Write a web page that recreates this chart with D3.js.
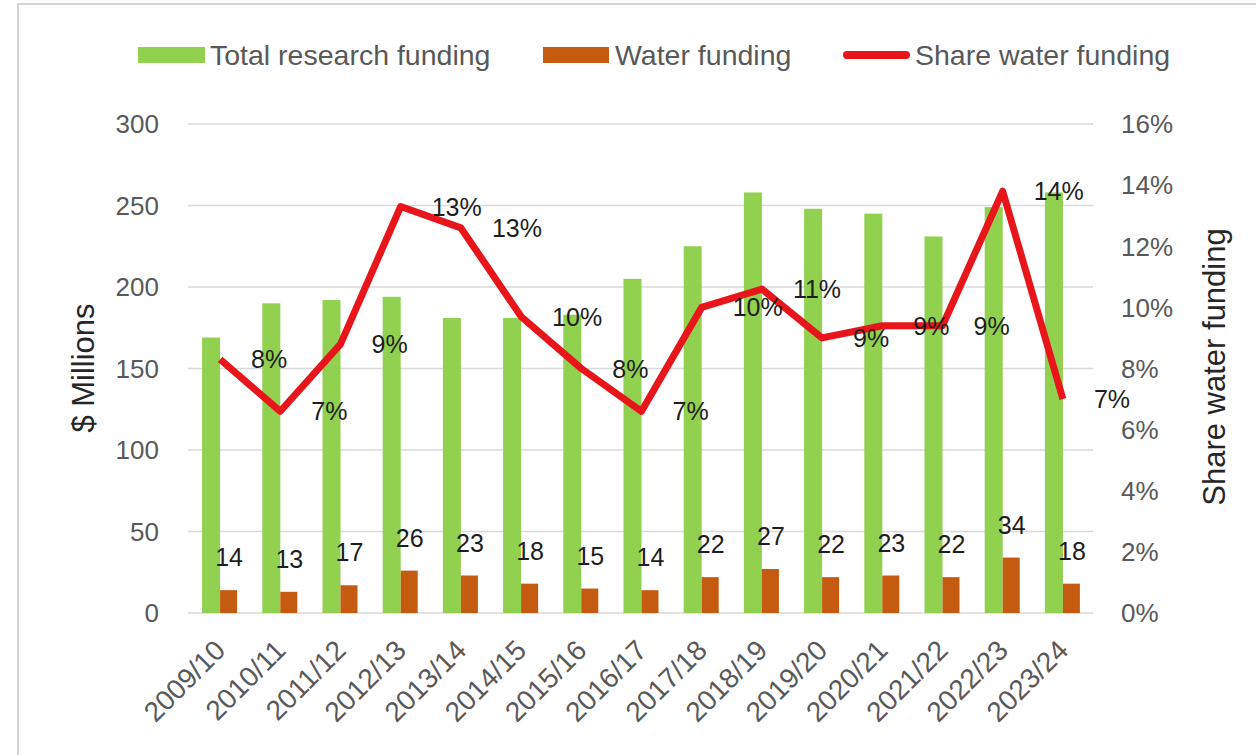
<!DOCTYPE html>
<html>
<head>
<meta charset="utf-8">
<script src="https://cdn.jsdelivr.net/npm/d3@7"></script>
<style>
  html, body { margin: 0; padding: 0; background: #fff; }
  svg { display: block; }
</style>
</head>
<body>
<script>
// chart data
const years = ["2009/10", "2010/11", "2011/12", "2012/13", "2013/14", "2014/15", "2015/16", "2016/17",
  "2017/18", "2018/19", "2019/20", "2020/21", "2021/22", "2022/23", "2023/24"];
const totalFunding = [169, 190, 192, 194, 181, 181, 183, 205, 225, 258, 248, 245, 231, 249, 258];
const waterFunding = [14, 13, 17, 26, 23, 18, 15, 14, 22, 27, 22, 23, 22, 34, 18];
const waterShare = [8.3, 6.6, 8.8, 13.3, 12.6, 9.7, 8.0, 6.6, 10.0, 10.6, 9.0, 9.4, 9.4, 13.8, 7.0];
const leftTicks = [0, 50, 100, 150, 200, 250, 300];
const rightTicks = [0, 2, 4, 6, 8, 10, 12, 14, 16];
const legendItems = ["Total research funding", "Water funding", "Share water funding"];

const width = 1256;
const height = 755;
const green = "#92d050";
const orange = "#c55a11";
const red = "#e8161b";
const font = "'Liberation Sans', Arial, sans-serif";

const svg = d3.create("svg")
  .attr("width", width)
  .attr("height", height)
  .attr("font-family", font);

// frame of the chart area
svg.append("path")
  .attr("d", "M18,755V4H1256")
  .attr("fill", "none")
  .attr("stroke", "#d4d4d4")
  .attr("stroke-width", 2);

const x = d3.scaleBand().domain(years).range([190, 1093]);
const y = d3.scaleLinear().domain([0, 300]).range([613, 124]);
const y2 = d3.scaleLinear().domain([0, 16]).range([613, 124]);
const barW = 18;
const cx = d => x(d) + x.bandwidth() / 2;

// gridlines
svg.append("g")
  .selectAll("line")
  .data(leftTicks)
  .join("line")
  .attr("x1", 188).attr("x2", 1093)
  .attr("y1", d => y(d)).attr("y2", d => y(d))
  .attr("stroke", "#d9d9d9")
  .attr("stroke-width", 1.5);

// left axis labels
svg.append("g")
  .attr("font-size", 26)
  .attr("fill", "#595959")
  .attr("text-anchor", "end")
  .selectAll("text")
  .data(leftTicks)
  .join("text")
  .attr("x", 159)
  .attr("y", d => y(d))
  .attr("dy", "0.36em")
  .text(d => d);

// right axis labels
svg.append("g")
  .attr("font-size", 26)
  .attr("fill", "#595959")
  .selectAll("text")
  .data(rightTicks)
  .join("text")
  .attr("x", 1121)
  .attr("y", d => y2(d))
  .attr("dy", "0.36em")
  .text(d => d + "%");

// axis titles
svg.append("text")
  .attr("transform", "translate(94,368) rotate(-90)")
  .attr("text-anchor", "middle")
  .attr("font-size", 31)
  .attr("fill", "#262626")
  .text("$ Millions");

svg.append("text")
  .attr("transform", "translate(1225,367) rotate(-90)")
  .attr("text-anchor", "middle")
  .attr("font-size", 31)
  .attr("fill", "#262626")
  .text("Share water funding");

// x labels, rotated
svg.append("g")
  .attr("font-size", 28)
  .attr("fill", "#595959")
  .attr("text-anchor", "end")
  .selectAll("text")
  .data(years)
  .join("text")
  .attr("transform", d => `translate(${cx(d) + 7},${652}) rotate(-45)`)
  .text(d => d);

// bars
svg.append("g")
  .attr("fill", green)
  .selectAll("rect")
  .data(years)
  .join("rect")
  .attr("x", d => cx(d) - barW)
  .attr("y", (d, i) => y(totalFunding[i]))
  .attr("width", barW)
  .attr("height", (d, i) => y(0) - y(totalFunding[i]));

svg.append("g")
  .attr("fill", orange)
  .selectAll("rect")
  .data(years)
  .join("rect")
  .attr("x", d => cx(d))
  .attr("y", (d, i) => y(waterFunding[i]))
  .attr("width", barW - 1)
  .attr("height", (d, i) => y(0) - y(waterFunding[i]));

// water funding labels
svg.append("g")
  .attr("font-size", 25)
  .attr("fill", "#1e1e1e")
  .attr("text-anchor", "middle")
  .selectAll("text")
  .data(years)
  .join("text")
  .attr("x", d => cx(d) + barW / 2)
  .attr("y", (d, i) => y(waterFunding[i]) - 24)
  .text((d, i) => waterFunding[i]);

// share line
const line = d3.line()
  .x((d, i) => cx(years[i]))
  .y(d => y2(d));

svg.append("path")
  .datum(waterShare)
  .attr("fill", "none")
  .attr("stroke", red)
  .attr("stroke-width", 7)
  .attr("stroke-linejoin", "round")
  .attr("d", line);

// share labels to the right of each point
svg.append("g")
  .attr("font-size", 25)
  .attr("fill", "#1e1e1e")
  .selectAll("text")
  .data(waterShare)
  .join("text")
  .attr("x", (d, i) => cx(years[i]) + 31)
  .attr("y", d => y2(d))
  .attr("dy", "0.36em")
  .text(d => d3.format(".0f")(d) + "%");

// legend
const legendX = [138, 543, 843];
const legend = svg.append("g")
  .attr("font-size", 28.5)
  .attr("fill", "#595959");

legend.append("rect").attr("x", legendX[0]).attr("y", 47).attr("width", 67).attr("height", 16).attr("fill", green);
legend.append("rect").attr("x", legendX[1]).attr("y", 47).attr("width", 66).attr("height", 16).attr("fill", orange);
legend.append("line")
  .attr("x1", legendX[2] + 4).attr("x2", legendX[2] + 63)
  .attr("y1", 55).attr("y2", 55)
  .attr("stroke", red)
  .attr("stroke-width", 8)
  .attr("stroke-linecap", "round");

legend.selectAll("text")
  .data(legendItems)
  .join("text")
  .attr("x", (d, i) => legendX[i] + 72)
  .attr("y", 55)
  .attr("dy", "0.36em")
  .text(d => d);

d3.select("body").append(() => svg.node());
</script>
</body>
</html>
